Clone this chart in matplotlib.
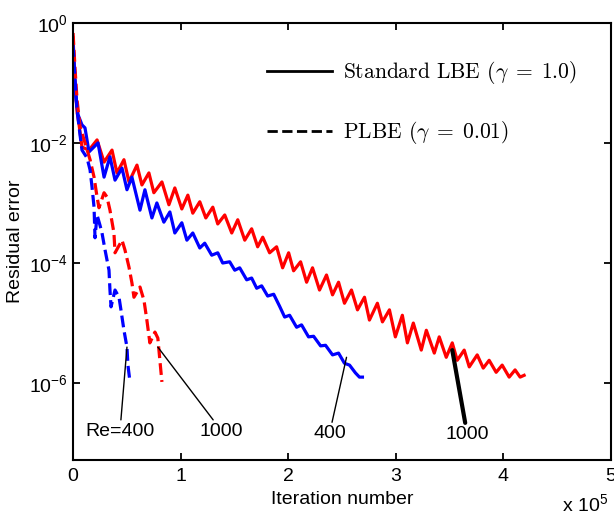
import numpy as np
import matplotlib
matplotlib.use("Agg")
import matplotlib.pyplot as plt
from matplotlib.lines import Line2D

plt.rcParams['font.family'] = ['Liberation Sans', 'DejaVu Sans']
plt.rcParams['mathtext.fontset'] = 'cm'
plt.rcParams['font.size'] = 14

# iterations in units of 1e5, residual error as log10
lbe400_it = [0, 0.009, 0.028, 0.046, 0.083, 0.111, 0.148, 0.232, 0.288, 0.343,
             0.390, 0.455, 0.501, 0.547, 0.622, 0.668, 0.733, 0.779, 0.844, 0.900,
             0.946, 1.011, 1.058, 1.113, 1.178, 1.224, 1.289, 1.345, 1.391, 1.456,
             1.503, 1.549, 1.614, 1.660, 1.707, 1.753, 1.809, 1.865, 1.920, 1.967,
             2.013, 2.078, 2.124, 2.189, 2.236, 2.301, 2.347, 2.412, 2.468, 2.523,
             2.570, 2.625, 2.662, 2.690]
lbe400_res = [-0.45, -0.87, -1.28, -1.53, -1.70, -1.75, -2.15, -2.00, -2.57, -2.23,
              -2.62, -2.42, -2.78, -2.57, -3.12, -2.78, -3.25, -3.00, -3.32, -3.15,
              -3.50, -3.33, -3.62, -3.50, -3.75, -3.67, -3.87, -3.83, -4.00, -3.98,
              -4.12, -4.08, -4.28, -4.25, -4.42, -4.38, -4.55, -4.52, -4.72, -4.90,
              -4.87, -5.07, -5.03, -5.23, -5.22, -5.38, -5.37, -5.53, -5.50, -5.67,
              -5.70, -5.83, -5.90, -5.90]

lbe1000_it = [0, 0.009, 0.019, 0.037, 0.056, 0.083, 0.148, 0.223, 0.288, 0.362,
              0.408, 0.473, 0.520, 0.594, 0.640, 0.705, 0.751, 0.826, 0.891, 0.946,
              1.011, 1.067, 1.113, 1.178, 1.234, 1.299, 1.345, 1.410, 1.475, 1.531,
              1.596, 1.660, 1.716, 1.763, 1.827, 1.892, 1.948, 2.004, 2.050, 2.115,
              2.171, 2.226, 2.291, 2.356, 2.412, 2.468, 2.523, 2.588, 2.644, 2.709,
              2.755, 2.829, 2.876, 2.941, 2.996, 3.061, 3.108, 3.163, 3.237, 3.284,
              3.358, 3.404, 3.469, 3.525, 3.571, 3.636, 3.683, 3.757, 3.813, 3.868,
              3.933, 3.989, 4.054, 4.109, 4.156, 4.193]
lbe1000_res = [-0.25, -0.62, -1.03, -1.48, -1.70, -2.07, -2.12, -1.95, -2.32, -2.12,
               -2.50, -2.28, -2.65, -2.37, -2.70, -2.50, -2.83, -2.65, -3.03, -2.75,
               -3.10, -2.87, -3.17, -2.98, -3.25, -3.07, -3.35, -3.20, -3.50, -3.28,
               -3.62, -3.43, -3.73, -3.57, -3.83, -3.73, -4.08, -3.83, -4.13, -3.98,
               -4.32, -4.08, -4.45, -4.20, -4.53, -4.32, -4.67, -4.45, -4.78, -4.57,
               -4.95, -4.67, -4.98, -4.78, -5.23, -4.87, -5.33, -5.00, -5.45, -5.12,
               -5.50, -5.23, -5.57, -5.33, -5.62, -5.45, -5.73, -5.53, -5.75, -5.62,
               -5.82, -5.70, -5.90, -5.78, -5.90, -5.87]

plbe400_it = [0, 0.019, 0.037, 0.065, 0.083, 0.130, 0.158, 0.176, 0.195, 0.204,
              0.223, 0.250, 0.269, 0.297, 0.334, 0.343, 0.353, 0.390, 0.427, 0.445,
              0.473, 0.501, 0.510, 0.529]
plbe400_res = [-0.37, -0.95, -1.45, -1.87, -2.12, -2.25, -2.45, -2.73, -3.07, -3.58,
               -3.20, -3.37, -3.50, -3.78, -4.12, -4.45, -4.73, -4.45, -4.57, -4.78,
               -5.12, -5.40, -5.70, -5.98]

plbe1000_it = [0, 0.019, 0.037, 0.065, 0.111, 0.158, 0.195, 0.223, 0.241, 0.288,
               0.315, 0.343, 0.380, 0.390, 0.455, 0.482, 0.520, 0.547, 0.566, 0.622,
               0.659, 0.686, 0.714, 0.761, 0.788, 0.807, 0.826]
plbe1000_res = [-0.17, -0.78, -1.28, -1.73, -2.00, -2.28, -2.57, -2.90, -3.08, -2.83,
                -2.90, -3.12, -3.50, -3.83, -3.62, -3.78, -4.07, -4.33, -4.57, -4.40,
                -4.62, -4.95, -5.33, -5.15, -5.25, -5.62, -5.98]

# annotation labels: (text, text position, pointed position, line width), log10 residual
notes = [
    ('Re=400', (0.436, -6.80), (0.501, -5.40), 1.0),
    ('1000', (1.382, -6.80), (0.788, -5.40), 1.0),
    ('400', (2.384, -6.84), (2.542, -5.57), 1.0),
    ('1000', (3.664, -6.85), (3.525, -5.45), 3.0),
]

fig = plt.figure(figsize=(6.14, 5.18), dpi=100)
ax = fig.add_axes([0.119, 0.112, 0.876, 0.844])

ax.semilogy(lbe1000_it, 10.0 ** np.array(lbe1000_res), color='#ff0000', lw=2.3)
ax.semilogy(lbe400_it, 10.0 ** np.array(lbe400_res), color='#0000ff', lw=2.3)
ax.semilogy(plbe1000_it, 10.0 ** np.array(plbe1000_res), color='#ff0000', lw=2.3, ls='--')
ax.semilogy(plbe400_it, 10.0 ** np.array(plbe400_res), color='#0000ff', lw=2.3, ls='--')

for label, (tx, ty), (px, py), w in notes:
    ax.annotate(label, xy=(px, 10.0 ** py), xytext=(tx, 10.0 ** ty),
                ha='center', va='center', fontsize=14,
                arrowprops=dict(arrowstyle='-', color='k', lw=w,
                                shrinkA=0, shrinkB=0))

ax.set_xlim(0, 5)
ax.set_ylim(10.0 ** -7.28, 1)
ax.set_xticks([0, 1, 2, 3, 4, 5])
ax.set_yticks([1, 1e-2, 1e-4, 1e-6])
ax.minorticks_off()
ax.tick_params(direction='in', top=True, right=True, length=5, width=1.3,
               labelsize=14)
ax.tick_params(axis='x', pad=6)
for s in ax.spines.values():
    s.set_linewidth(1.5)

ax.set_xlabel('Iteration number', fontsize=14, labelpad=4)
ax.set_ylabel('Residual error', fontsize=14)
fig.text(0.915, 0.012, r'x 10$^{\mathdefault{5}}$', fontsize=14,
         ha='left', va='baseline')

handles = [Line2D([], [], color='k', lw=2),
           Line2D([], [], color='k', lw=2, ls='--')]
labels = [r'Standard LBE ($\gamma\;=\;1.0$)', r'PLBE ($\gamma\;=\;0.01$)']
ax.legend(handles, labels, loc='upper left', bbox_to_anchor=(0.361, 0.917),
          frameon=False, borderpad=0, borderaxespad=0, handlelength=3.0,
          handletextpad=0.5, labelspacing=1.55,
          prop={'family': 'cmr10', 'size': 15.5})

fig.savefig('out.png', dpi=100)
